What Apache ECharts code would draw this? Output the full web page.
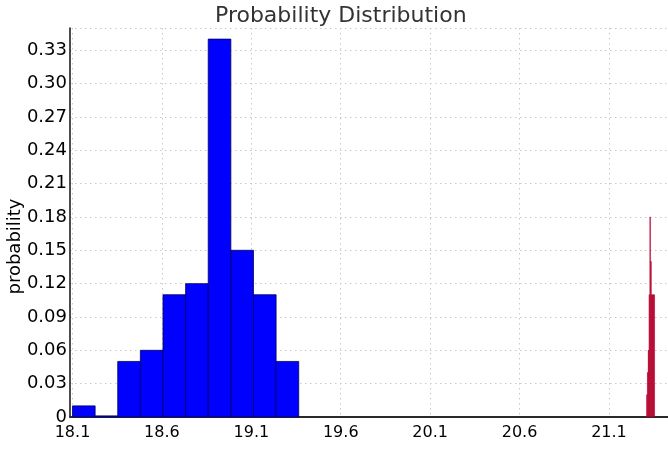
<!DOCTYPE html>
<html>
<head>
<meta charset="utf-8">
<script src="https://cdn.jsdelivr.net/npm/echarts@6/dist/echarts.min.js"></script>
<style>html,body{margin:0;padding:0;background:#fff}#c{width:668px;height:451px}</style>
</head>
<body>
<div id="c"></div>
<script>
// Data
const blueBinStarts = [18.1, 18.2265, 18.353, 18.4795, 18.606, 18.7325, 18.859, 18.9855, 19.112, 19.2385];
const blueValues = [0.01, 0.001, 0.05, 0.06, 0.11, 0.12, 0.34, 0.15, 0.11, 0.05];
const blueBinWidth = 0.1265;
const redBinStarts = [21.31, 21.3145, 21.319, 21.3235, 21.328, 21.3325, 21.337, 21.3415, 21.346, 21.3505];
const redValues = [0.02, 0.04, 0.06, 0.11, 0.18, 0.14, 0.11, 0.11, 0.11, 0.11];
const redBinWidth = 0.0045;
const xTickValues = [18.1, 18.6, 19.1, 19.6, 20.1, 20.6, 21.1];
const yTickLabels = ['0', '0.03', '0.06', '0.09', '0.12', '0.15', '0.18', '0.21', '0.24', '0.27', '0.30', '0.33'];

const FONT = 'DejaVu Sans';
function binRenderer(width, fill, stroke, lw) {
  return function (params, api) {
    const x0 = api.value(0), v = api.value(1);
    const p0 = api.coord([x0, v]);
    const p1 = api.coord([x0 + width, 0]);
    return {
      type: 'rect',
      shape: { x: p0[0], y: p0[1], width: p1[0] - p0[0], height: p1[1] - p0[1] },
      style: { fill: fill, stroke: stroke, lineWidth: lw }
    };
  };
}

const chart = echarts.init(document.getElementById('c'), null, { renderer: 'canvas' });
chart.setOption({
  animation: false,
  backgroundColor: '#fff',
  title: {
    text: 'Probability Distribution',
    left: 210, top: 0,
    textStyle: { fontFamily: FONT, fontSize: 22, fontWeight: 'normal', color: '#333' }
  },
  grid: { left: 70, right: 0, top: 28, bottom: 34, containLabel: false, outerBoundsMode: 'none' },
  xAxis: [{
    type: 'value', min: 18.086, max: 21.43,
    axisLine: { show: true, onZero: false, lineStyle: { color: '#444', width: 2 } },
    axisTick: { show: false, customValues: xTickValues },
    axisLabel: { customValues: xTickValues, fontFamily: FONT, fontSize: 16, color: '#000', margin: 8,
      formatter: v => v.toFixed(1) },
    splitLine: { show: true, lineStyle: { color: '#c8c8c8', type: [1.5, 3.5], width: 1 } }
  }, {
    type: 'value', position: 'top', min: 18.086, max: 21.43,
    axisLine: { show: true, lineStyle: { color: '#222', width: 1.5 } },
    axisTick: { show: false }, axisLabel: { show: false }, splitLine: { show: false }
  }],
  yAxis: {
    type: 'value', min: 0, max: 0.35, interval: 0.03,
    name: 'probability', nameLocation: 'middle', nameGap: 46, nameMoveOverlap: false,
    nameTextStyle: { fontFamily: FONT, fontSize: 18, color: '#000', padding: [0, 48, 0, 0] },
    axisLine: { show: true, lineStyle: { color: '#111', width: 1.5 } },
    axisTick: { show: false },
    axisLabel: { fontFamily: FONT, fontSize: 18, color: '#000', margin: 3, showMaxLabel: false,
      formatter: v => { const i = Math.round(v / 0.03); return (Math.abs(v - i * 0.03) < 1e-6 && yTickLabels[i]) ? yTickLabels[i] : ''; } },
    splitLine: { show: true, lineStyle: { color: '#c8c8c8', type: [1.5, 3.5], width: 1 } }
  },
  series: [{
    type: 'custom', xAxisIndex: 0,
    renderItem: binRenderer(blueBinWidth, '#0000ff', '#00005a', 0.8),
    data: blueBinStarts.map((x, i) => [x, blueValues[i]]),
    z: 3
  }, {
    type: 'custom', xAxisIndex: 0,
    renderItem: binRenderer(redBinWidth, '#b4002d', '#b4002d', 0.4),
    data: redBinStarts.map((x, i) => [x, redValues[i]]),
    z: 3
  }]
});
</script>
</body>
</html>
